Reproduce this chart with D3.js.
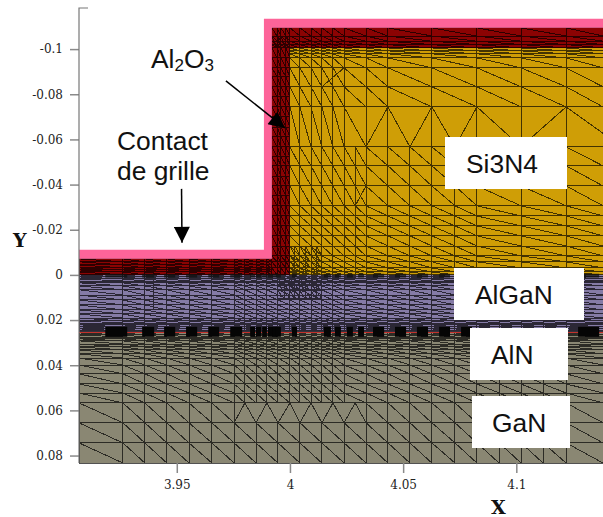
<!DOCTYPE html>
<html>
<head>
<meta charset="utf-8">
<script src="https://cdn.jsdelivr.net/npm/d3@7"></script>
<style>
  html, body { margin: 0; padding: 0; background: #fff; }
  svg { display: block; }
  .tick text { font-family: "DejaVu Serif", serif; font-size: 12px; fill: #222; }
  .tick line { stroke: #8a8a8a; stroke-width: 1.5; }
  .axis-title { font-family: "DejaVu Serif", serif; font-weight: bold; font-size: 19px; fill: #111; }
  .note { font-family: "Liberation Sans", Arial, sans-serif; font-size: 26.4px; fill: #111; }
</style>
</head>
<body>
<svg id="chart"></svg>
<script>
// ticks
const xTickValues = [3.95, 4, 4.05, 4.1];
const xTickLabels = ['3.95', '4', '4.05', '4.1'];
const yTickValues = [-0.1, -0.08, -0.06, -0.04, -0.02, 0, 0.02, 0.04, 0.06, 0.08];
const yTickLabels = ['-0.1', '-0.08', '-0.06', '-0.04', '-0.02', '0', '0.02', '0.04', '0.06', '0.08'];

// structure outlines (x, y in device units)
const pinkX = [3.9068, 3.9885, 3.9885, 4.1383, 4.1383, 3.992, 3.992, 3.9068];
const pinkY = [-0.0111, -0.0111, -0.1134, -0.1134, -0.1094, -0.1094, -0.0071, -0.0071];
const oxideX = [3.9068, 3.992, 3.992, 4.1383, 4.1383, 4, 4, 3.9068];
const oxideY = [-0.0071, -0.0071, -0.1094, -0.1094, -0.1005, -0.1005, 0, 0];
const nitrideX = [4, 4.1383, 4.1383, 4];
const nitrideY = [-0.1005, -0.1005, 0, 0];
const alganX = [3.9068, 4.1383, 4.1383, 3.9068];
const alganY = [0, 0, 0.0252, 0.0252];
const alnX = [3.9068, 4.1383, 4.1383, 3.9068];
const alnY = [0.0252, 0.0252, 0.0257, 0.0257];
const ganX = [3.9068, 4.1383, 4.1383, 3.9068];
const ganY = [0.0257, 0.0257, 0.0833, 0.0833];

// mesh nodes
const leftXs = [3.9068, 3.9262, 3.9359, 3.9456, 3.9554, 3.9655, 3.9753, 3.9801, 3.985, 3.9898, 3.9947, 4];
const rightXs = [4, 4.0044, 4.0093, 4.0141, 4.019, 4.0239, 4.0336, 4.0433, 4.053, 4.0627, 4.0729, 4.0826, 4.0924, 4.1021, 4.1118, 4.122, 4.1383];
const wallXs = [3.992, 3.9943, 3.996, 3.9982, 4];
const nitrideUpperXs = [4, 4.0044, 4.0093, 4.0141, 4.019, 4.0239, 4.0336, 4.0433, 4.0627, 4.0826, 4.1021, 4.122, 4.1383];
const nitrideGapXs = [4, 4.0044, 4.0093, 4.0141, 4.019, 4.0239];
const nitrideGapLineXs = [4.0336, 4.0433, 4.0627, 4.0826, 4.1021, 4.122];
const nitrideLowerXs = [4, 4.0044, 4.0093, 4.0141, 4.019, 4.0239, 4.0288, 4.0336, 4.0433, 4.053, 4.0627, 4.0729, 4.0826, 4.1021, 4.122, 4.1383];
const nitrideNearXs = [4, 4.0022, 4.0044, 4.0068, 4.0093, 4.0117, 4.0141];
const ganCoarseXs = [3.9068, 3.9262, 3.9359, 3.9456, 3.9554, 3.9655, 3.9753, 3.985, 3.9947, 4.0044, 4.0141, 4.0239, 4.0336, 4.0433, 4.053, 4.0627, 4.0729, 4.0826, 4.0924, 4.1021, 4.1118, 4.122, 4.1383];
const nearGateXs = [3.9947, 3.9975, 4, 4.0022, 4.0044, 4.0068, 4.0093, 4.0117, 4.0141];

const oxideTopRows = [-0.1094, -0.1058, -0.1035, -0.102, -0.1005];
const oxideLeftRows = [-0.0071, -0.0058, -0.0044, -0.0031, -0.0022, -0.0013, 0];
const wallRows = [-0.1094, -0.1058, -0.1005, -0.0961, -0.0917, -0.0877, -0.0833, -0.0788, -0.0744, -0.07, -0.0655, -0.0611, -0.0567, -0.0523, -0.0483, -0.0438, -0.0394, -0.035, -0.0306, -0.0261, -0.0217, -0.0173, -0.0128, -0.0084, -0.0058, -0.0031, 0];
const nitrideUpperRows = [-0.1005, -0.0992, -0.0979, -0.0961, -0.0917, -0.0833, -0.0744];
const nitrideGapRows = [-0.0744, -0.0567];
const nitrideLowerRows = [-0.0567, -0.0483, -0.0394, -0.0306, -0.0261, -0.0217, -0.0173, -0.0128, -0.0084, -0.0058, -0.0031, -0.0013, 0];
const nitrideNearRows = [-0.0128, -0.0084, -0.0058, -0.0031, -0.0013, 0];
const alganRows = [0, 0.0009, 0.0018, 0.0027, 0.0035, 0.0049, 0.0066, 0.0089, 0.0111, 0.0133, 0.0155, 0.0173, 0.0191, 0.0204, 0.0213, 0.0221, 0.023, 0.0239, 0.0248, 0.0252];
const nearGateRows = [0, 0.0018, 0.0044, 0.0071, 0.0106];
const ganUpperRows = [0.0257, 0.0266, 0.0275, 0.0283, 0.0292, 0.0306, 0.0319, 0.0332, 0.035, 0.0368, 0.0399, 0.0438, 0.0483, 0.0523, 0.0567];
const ganGapRows = [0.0567, 0.0655];
const ganGapOuterLeftXs = [3.9068, 3.9262, 3.9359, 3.9456, 3.9554, 3.9655, 3.9753];
const ganGapOuterRightXs = [4.0336, 4.0433, 4.053, 4.0627, 4.0729, 4.0826, 4.0924, 4.1021, 4.1118, 4.122, 4.1383];
const ganLowerRows = [0.0655, 0.0744, 0.0833];

// zigzag rows where the triangles change direction
const nitrideZigX = [4.0239, 4.0336, 4.0433, 4.053, 4.0627, 4.0729, 4.0826, 4.1021, 4.122, 4.1383];
const nitrideZigY = [-0.0744, -0.0567, -0.0744, -0.0567, -0.0744, -0.0567, -0.0744, -0.0567, -0.0744, -0.0627];
const ganZigX = [3.9753, 3.9801, 3.985, 3.9898, 3.9947, 4, 4.0044, 4.0093, 4.0141, 4.019, 4.0239, 4.0288, 4.0336];
const ganZigY = [0.0655, 0.0567, 0.0655, 0.0567, 0.0655, 0.0567, 0.0655, 0.0567, 0.0655, 0.0567, 0.0655, 0.0567, 0.0655];
const veeOneX = [4.0141, 4.0239, 4.0239];
const veeOneY = [-0.0833, -0.0917, -0.0833];
const veeTwoX = [4.0288, 4.0336];
const veeTwoY = [-0.0306, -0.0394];
const strayLineX = [3.9399, 3.9399];
const strayLineY = [-0.0031, 0.0155];

// dense black element clusters along the AlN layer, start and end
const clusterStarts = [3.9184, 3.9347, 3.9444, 3.9541, 3.9639, 3.9736, 3.9824, 3.985, 3.9877, 3.9903, 3.9925, 3.9938, 4.0009, 4.015, 4.0199, 4.0252, 4.0301, 4.0367, 4.0464, 4.0561, 4.0659, 4.0756, 4.1273];
const clusterEnds = [3.9281, 3.94, 3.9493, 3.959, 3.9687, 3.9789, 3.9846, 3.9872, 3.9898, 3.9925, 3.9943, 3.996, 4.0031, 4.0181, 4.0225, 4.0278, 4.0327, 4.0416, 4.0513, 4.061, 4.0707, 4.0804, 4.1366];

const width = 603;
const height = 517;
const plotLeft = 79;
const plotRight = 603;
const plotTop = 8;
const plotBottom = 463;

const scaleX = d3.scaleLinear().domain([3.9068, 4.1383]).range([plotLeft, plotRight]);
const scaleY = d3.scaleLinear().domain([-0.1182, 0.0833]).range([plotTop, plotBottom]);

const svg = d3.select('#chart').attr('width', width).attr('height', height);

const toPoints = (xs, ys) => xs.map((x, i) => [scaleX(x), scaleY(ys[i])]);
const line = d3.line();

const fillShape = (xs, ys, color) => svg.append('path')
  .attr('d', line(toPoints(xs, ys)) + 'Z')
  .attr('fill', color);

fillShape(oxideX, oxideY, '#8b0303');
fillShape(nitrideX, nitrideY, '#cf9e06');
fillShape(alganX, alganY, '#857ba6');
fillShape(ganX, ganY, '#8a8773');

// mesh: grid lines plus one diagonal per cell
const meshPaths = [];

const addGrid = (xs, rows, diagonals) => {
  rows.forEach(y => meshPaths.push(line([[scaleX(xs[0]), scaleY(y)], [scaleX(xs[xs.length - 1]), scaleY(y)]])));
  xs.forEach(x => meshPaths.push(line([[scaleX(x), scaleY(rows[0])], [scaleX(x), scaleY(rows[rows.length - 1])]])));
  if (!diagonals) return;
  for (let i = 0; i < xs.length - 1; i++) {
    for (let j = 0; j < rows.length - 1; j++) {
      meshPaths.push(line([[scaleX(xs[i]), scaleY(rows[j])], [scaleX(xs[i + 1]), scaleY(rows[j + 1])]]));
    }
  }
};

const addPolyline = (xs, ys) => meshPaths.push(line(toPoints(xs, ys)));

addGrid([...wallXs, ...nitrideUpperXs.slice(1)], oxideTopRows, true);
addGrid(leftXs.filter(x => x <= 3.992).concat(wallXs[0]), oxideLeftRows, true);
addGrid(wallXs, wallRows, true);
addGrid(nitrideUpperXs, nitrideUpperRows, true);
addGrid(nitrideGapXs, nitrideGapRows, true);
addGrid(nitrideLowerXs, nitrideLowerRows, true);
addGrid(nitrideNearXs, nitrideNearRows, true);
nitrideGapLineXs.forEach(x => addPolyline([x, x], nitrideGapRows));
addPolyline(nitrideZigX, nitrideZigY);
addPolyline(veeOneX, veeOneY);
addPolyline(veeTwoX, veeTwoY);

const fullXs = [...leftXs, ...rightXs.slice(1)];
addGrid(fullXs, alganRows, true);
addGrid(nearGateXs, nearGateRows, true);
addGrid(fullXs, ganUpperRows, true);
addGrid(ganGapOuterLeftXs, ganGapRows, true);
addGrid(ganGapOuterRightXs, ganGapRows, true);
addGrid(ganCoarseXs, ganLowerRows, true);
addPolyline(ganZigX, ganZigY);
addPolyline(strayLineX, strayLineY);

svg.append('path')
  .attr('d', meshPaths.join(''))
  .attr('fill', 'none')
  .attr('stroke', '#000')
  .attr('stroke-width', 1)
  .attr('stroke-opacity', 0.68)
  .attr('shape-rendering', 'crispEdges');

// red AlN line stays visible between the clusters
fillShape(alnX, alnY, '#c4322c').attr('shape-rendering', 'crispEdges');

// element clusters
svg.append('g').selectAll('rect')
  .data(clusterStarts)
  .enter().append('rect')
  .attr('x', d => scaleX(d))
  .attr('y', scaleY(0.023))
  .attr('width', (d, i) => scaleX(clusterEnds[i]) - scaleX(d))
  .attr('height', scaleY(0.0274) - scaleY(0.023))
  .attr('fill', '#050505');

svg.append('g').selectAll('rect')
  .data(clusterStarts)
  .enter().append('rect')
  .attr('x', d => scaleX(d))
  .attr('y', scaleY(-0.0005))
  .attr('width', (d, i) => scaleX(clusterEnds[i]) - scaleX(d))
  .attr('height', scaleY(0.0012) - scaleY(-0.0005))
  .attr('fill', '#111')
  .attr('fill-opacity', 0.75);

fillShape(pinkX, pinkY, '#fd6499');

// axes
const axisX = d3.axisBottom(scaleX)
  .tickValues(xTickValues)
  .tickSize(10)
  .tickPadding(7)
  .tickFormat((d, i) => xTickLabels[i]);

const axisY = d3.axisLeft(scaleY)
  .tickValues(yTickValues)
  .tickSize(9)
  .tickPadding(7)
  .tickFormat((d, i) => yTickLabels[i]);

const axisXGroup = svg.append('g').attr('transform', `translate(0,${plotBottom})`).call(axisX);
const axisYGroup = svg.append('g').attr('transform', `translate(${plotLeft},0)`).call(axisY);
axisXGroup.select('.domain').remove();
axisYGroup.select('.domain').remove();

svg.append('path')
  .attr('d', `M${plotLeft + 9},${plotTop}H${plotLeft}V${plotBottom}`)
  .attr('fill', 'none')
  .attr('stroke', '#777')
  .attr('stroke-width', 1.2);

svg.append('text').attr('class', 'axis-title').attr('x', 13).attr('y', 247).text('Y');
svg.append('text').attr('class', 'axis-title').attr('x', 491).attr('y', 514).text('X');

// label boxes
const boxLabels = ['Si3N4', 'AlGaN', 'AlN', 'GaN'];
const boxLeft = [445, 454, 470, 472];
const boxRight = [567, 584, 568, 570];
const boxTop = [137, 268, 328, 396];
const boxBottom = [189, 320, 380, 448];
const boxTextX = [466, 475, 491, 492];

boxLabels.forEach((label, i) => {
  svg.append('rect')
    .attr('x', boxLeft[i])
    .attr('y', boxTop[i])
    .attr('width', boxRight[i] - boxLeft[i])
    .attr('height', boxBottom[i] - boxTop[i])
    .attr('fill', '#fff');
  svg.append('text')
    .attr('class', 'note')
    .attr('x', boxTextX[i])
    .attr('y', boxTop[i] + 36)
    .text(label);
});

// annotations
const al2o3 = svg.append('text').attr('class', 'note').attr('x', 151).attr('y', 68);
al2o3.append('tspan').text('Al');
al2o3.append('tspan').attr('font-size', 17).attr('dy', 3).text('2');
al2o3.append('tspan').attr('dy', -3).text('O');
al2o3.append('tspan').attr('font-size', 17).attr('dy', 3).text('3');

svg.append('text').attr('class', 'note').attr('x', 117).attr('y', 150).text('Contact');
svg.append('text').attr('class', 'note').attr('x', 117).attr('y', 180).text('de grille');

svg.append('defs').append('marker')
  .attr('id', 'head')
  .attr('markerUnits', 'userSpaceOnUse')
  .attr('markerWidth', 18)
  .attr('markerHeight', 16)
  .attr('refX', 17)
  .attr('refY', 8)
  .attr('orient', 'auto')
  .append('path')
  .attr('d', 'M1,0L17,8L1,16Z')
  .attr('fill', '#000');

const arrowFromX = [3.9717, 3.9521];
const arrowFromY = [-0.0859, -0.0381];
const arrowToX = [3.9978, 3.9523];
const arrowToY = [-0.0651, -0.0142];

arrowFromX.forEach((x, i) => {
  svg.append('line')
    .attr('x1', scaleX(x))
    .attr('y1', scaleY(arrowFromY[i]))
    .attr('x2', scaleX(arrowToX[i]))
    .attr('y2', scaleY(arrowToY[i]))
    .attr('stroke', '#000')
    .attr('stroke-width', 1.5)
    .attr('marker-end', 'url(#head)');
});
</script>
</body>
</html>
